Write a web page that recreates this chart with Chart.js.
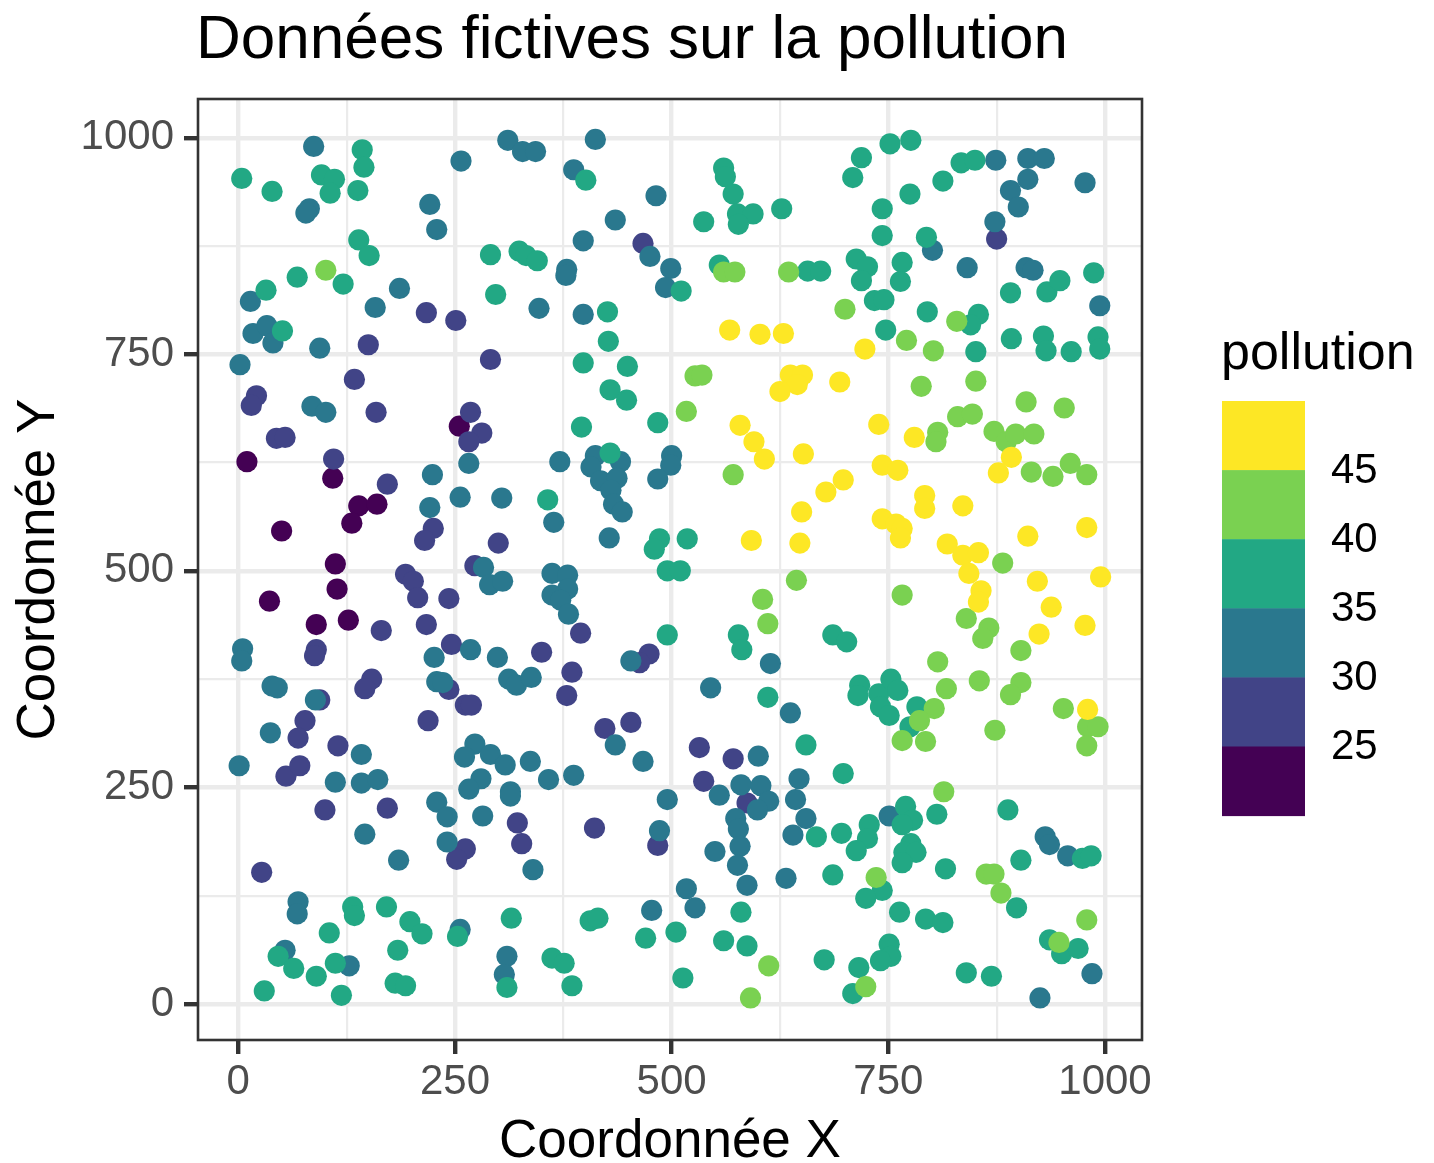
<!DOCTYPE html>
<html lang="fr">
<head>
<meta charset="utf-8">
<title>Données fictives sur la pollution</title>
<script src="https://cdn.jsdelivr.net/npm/chart.js@4.4.1/dist/chart.umd.min.js"></script>
<style>
html, body { margin:0; padding:0; background:#ffffff; }
#cadre { width:1434px; height:1163px; }
</style>
</head>
<body>
<div id="cadre"><canvas id="chartPollution" width="1434" height="1163"></canvas></div>
<script>

// ==========================
// DONNEES
// ==========================

// niveau de pollution estime pour chaque groupe de points
const niveaux = [22, 27, 32, 37, 42, 47];

const xTresBas = [255,10,109,139,160,131,50,112,114,36,127,90];
const yTresBas = [667,626,607,575,577,555,546,508,479,465,443,438];

const xBas = [217,251,150,134,291,21,15,159,268,467,875,281,266,44,54,110,172,225,215,300,
  273,193,202,207,243,165,217,90,88,246,94,154,146,243,262,269,77,219,395,350,
  474,463,385,379,69,55,71,115,100,172,27,262,252,322,327,423,453,411,484,532,
  571,537,587];
const yBas = [798,789,761,721,744,702,691,683,683,878,883,659,649,653,654,629,600,549,535,532,
  506,496,488,469,468,431,438,409,402,415,351,375,364,363,345,345,327,327,428,406,
  404,394,383,356,307,263,275,298,224,226,152,179,167,209,185,318,325,203,183,296,
  283,257,232];

const xMoyen = [87,82,78,257,311,221,229,14,186,158,17,33,40,94,2,85,101,
  328,343,412,387,482,435,398,475,499,493,379,378,347,398,
  874,911,930,911,891,900,977,873,801,841,909,917,994,
  266,224,256,304,221,283,290,305,5,4,226,268,299,312,321,39,45,89,229,236,
  614,545,637,371,412,407,441,418,437,430,433,443,500,499,484,364,428,362,380,380,362,372,381,453,338,
  37,1,142,112,142,161,146,185,273,261,291,308,280,266,314,314,229,241,282,241,69,68,256,310,307,54,128,
  435,467,337,358,387,486,495,340,600,555,580,603,612,599,574,577,579,576,550,587,647,643,655,640,632,517,527,477,
  751,931,936,957,985,925];
const yMoyen = [990,918,913,973,997,923,894,811,826,804,774,783,763,757,738,690,683,
  984,984,998,963,933,905,881,863,849,827,848,841,803,796,
  974,976,976,952,939,920,948,903,870,850,850,847,806,
  624,611,585,584,573,504,484,488,410,396,400,409,400,375,368,367,365,351,372,371,
  393,365,336,626,633,620,626,604,607,593,577,568,633,622,606,556,538,497,495,479,472,466,450,396,377,
  313,275,288,256,255,259,196,166,300,285,288,276,260,248,245,240,233,216,217,187,118,104,86,55,34,62,44,
  299,280,280,259,264,200,236,155,286,241,253,252,234,224,214,202,182,160,176,137,260,236,214,195,145,133,111,108,
  217,193,184,171,35,7];

const xEleve = [143,145,4,39,96,111,106,138,139,151,68,121,32,291,297,51,
  401,511,324,332,345,426,427,398,449,429,448,560,562,571,576,594,577,627,537,555,657,672,
  752,776,719,709,743,775,813,834,850,743,794,713,726,719,766,764,734,745,795,891,933,948,987,747,854,845,851,892,929,932,961,992,994,
  484,396,577,581,611,429,357,486,480,518,495,510,495,
  686,702,717,715,739,753,761,741,751,783,
  132,134,171,198,212,105,253,315,310,46,64,30,90,112,119,184,181,193,
  655,667,406,415,470,505,580,560,587,513,362,376,385,676,
  775,698,888,770,778,766,806,728,726,713,696,776,768,782,766,816,686,743,724,763,793,813,751,753,741,716,709,903,974,984,898,936,950,969,840,869];
const yEleve = [986,966,953,938,957,952,936,939,882,864,839,831,824,865,819,777,
  951,823,869,864,858,799,765,740,736,709,697,965,955,935,912,912,900,918,903,853,846,846,
  993,997,977,954,918,935,950,971,974,887,885,860,851,835,856,834,812,813,799,821,822,835,844,778,796,784,753,768,771,754,753,770,756,
  671,666,426,409,354,636,582,537,525,537,500,500,426,
  426,418,368,356,358,375,362,343,333,343,
  112,102,112,95,81,82,78,99,19,55,41,15,32,47,10,62,24,21,
  299,193,96,99,76,83,106,73,67,30,53,47,21,51,
  320,266,224,228,212,207,219,207,191,177,197,185,175,175,163,156,149,131,122,106,98,94,69,55,50,42,12,166,168,171,111,74,58,64,36,32];

const xTresEleve = [101,517,527,535,560,573,635,829,700,771,802,788,851,909,953,
  571,644,605,611,
  807,805,830,847,872,886,897,918,915,940,960,979,882,766,840,866,859,903,807,855,817,903,891,952,803,786,
  612,591,766,793,873,980,992,979,814,736,724,863,872,880,979,947];
const yTresEleve = [847,684,725,726,845,845,845,788,802,766,754,713,719,695,688,
  611,489,467,439,
  660,649,678,681,661,649,658,658,614,609,624,611,509,472,445,434,422,408,395,373,364,371,357,341,341,327,
  44,7,304,303,316,320,320,298,245,146,20,150,150,128,97,71];

const xMax = [567,602,629,637,651,645,625,723,694,
  579,595,607,652,678,650,592,648,
  739,780,892,877,743,761,698,792,792,836,743,759,766,764,911,979,818,836,854,843,857,854,922,995,938,977,924,980];
const yMax = [778,773,774,726,726,715,707,756,718,
  668,649,629,635,591,568,535,532,
  669,654,631,613,622,616,605,587,572,575,560,554,549,538,540,550,531,518,521,497,477,464,488,493,458,437,427,340];

// echelle de couleur (viridis, 6 classes)
const seuils = [25, 30, 35, 40, 45];
const couleurs = ["#440154", "#414487", "#2A788E", "#22A884", "#7AD151", "#FDE725"];
const graduations = [0, 250, 500, 750, 1000];


// ==========================
// CONSTRUCTION DES POINTS
// ==========================

const groupes = [
  [xTresBas, yTresBas],
  [xBas, yBas],
  [xMoyen, yMoyen],
  [xEleve, yEleve],
  [xTresEleve, yTresEleve],
  [xMax, yMax]
];

const points = [];
groupes.forEach(function(g, k){
  g[0].forEach(function(x, i){
    points.push({ x: x, y: g[1][i], pollution: niveaux[k] });
  });
});

function couleurPollution(v){
  let c = 0;
  seuils.forEach(function(s){ if (v >= s) c++; });
  return couleurs[c];
}

const police = '"Liberation Sans", Arial, sans-serif';

function estMajeur(ctx){
  return ctx.tick && graduations.includes(ctx.tick.value);
}


// ==========================
// HABILLAGE (titres, cadre, legende)
// ==========================

const habillage = {
  id: "habillage",

  afterDatasetsDraw: function(chart){
    const a = chart.chartArea;
    const ctx = chart.ctx;
    ctx.save();
    ctx.strokeStyle = "#333333";
    ctx.lineWidth = 2.6;
    ctx.strokeRect(a.left, a.top, a.right - a.left, a.bottom - a.top);
    ctx.restore();
  },

  afterDraw: function(chart){
    const a = chart.chartArea;
    const ctx = chart.ctx;
    ctx.save();
    ctx.fillStyle = "#000000";

    // titre
    ctx.font = "62px " + police;
    ctx.textAlign = "left";
    ctx.textBaseline = "alphabetic";
    ctx.fillText("Données fictives sur la pollution", 196, 58);

    // titres des axes
    ctx.font = "53px " + police;
    ctx.textAlign = "center";
    ctx.fillText("Coordonnée X", (a.left + a.right) / 2, 1157);

    ctx.save();
    ctx.translate(54, (a.top + a.bottom) / 2);
    ctx.rotate(-Math.PI / 2);
    ctx.fillText("Coordonnée Y", 0, 0);
    ctx.restore();

    // legende
    ctx.font = "52px " + police;
    ctx.textAlign = "left";
    ctx.fillText("pollution", 1221, 369);

    const lx = 1222, lw = 83, ltop = 401, lh = 69.1;
    for (let i = 0; i < couleurs.length; i++) {
      ctx.fillStyle = couleurs[couleurs.length - 1 - i];
      ctx.fillRect(lx, ltop + i * lh, lw, lh + 0.5);
    }

    ctx.fillStyle = "#000000";
    ctx.font = "42px " + police;
    ctx.textBaseline = "middle";
    for (let i = 0; i < seuils.length; i++) {
      const s = seuils[seuils.length - 1 - i];
      ctx.fillText(String(s), 1331, ltop + (i + 1) * lh + 1);
    }

    ctx.restore();
  }
};


// ==========================
// GRAPHIQUE
// ==========================

new Chart(
document.getElementById("chartPollution"),
{

type: "scatter",

data: {
  datasets: [{
    label: "pollution",
    data: points,
    backgroundColor: points.map(function(p){ return couleurPollution(p.pollution); }),
    pointRadius: 10.6,
    pointHoverRadius: 10.6,
    pointBorderWidth: 0,
    borderWidth: 0
  }]
},

options: {
  responsive: false,
  devicePixelRatio: 1,
  animation: false,
  events: [],

  layout: {
    padding: { left: 0, top: 99, right: 292, bottom: 0 }
  },

  plugins: {
    legend: { display: false },
    title: { display: false },
    tooltip: { enabled: false }
  },

  scales: {

    x: {
      type: "linear",
      min: -46.5,
      max: 1042.7,
      afterFit: function(s){ s.height = 123; },
      border: { display: false },
      grid: {
        color: "#EBEBEB",
        lineWidth: function(ctx){ return estMajeur(ctx) ? 4.4 : 2.2; },
        drawTicks: true,
        tickLength: 14,
        tickWidth: 4.4,
        tickColor: function(ctx){ return estMajeur(ctx) ? "#333333" : "rgba(0,0,0,0)"; }
      },
      ticks: {
        stepSize: 125,
        includeBounds: false,
        autoSkip: false,
        maxRotation: 0,
        padding: 3,
        color: "#4D4D4D",
        font: { family: police, size: 42, lineHeight: 1.2 },
        callback: function(v){ return graduations.includes(v) ? String(v) : ""; }
      }
    },

    y: {
      type: "linear",
      min: -41.6,
      max: 1044.7,
      afterFit: function(s){ s.width = 198; },
      border: { display: false },
      grid: {
        color: "#EBEBEB",
        lineWidth: function(ctx){ return estMajeur(ctx) ? 4.4 : 2.2; },
        drawTicks: true,
        tickLength: 14,
        tickWidth: 4.4,
        tickColor: function(ctx){ return estMajeur(ctx) ? "#333333" : "rgba(0,0,0,0)"; }
      },
      ticks: {
        stepSize: 125,
        includeBounds: false,
        autoSkip: false,
        padding: 10,
        color: "#4D4D4D",
        font: { family: police, size: 42, lineHeight: 1.2 },
        callback: function(v){ return graduations.includes(v) ? String(v) : ""; }
      }
    }

  }
},

plugins: [habillage]

});

</script>
</body>
</html>
